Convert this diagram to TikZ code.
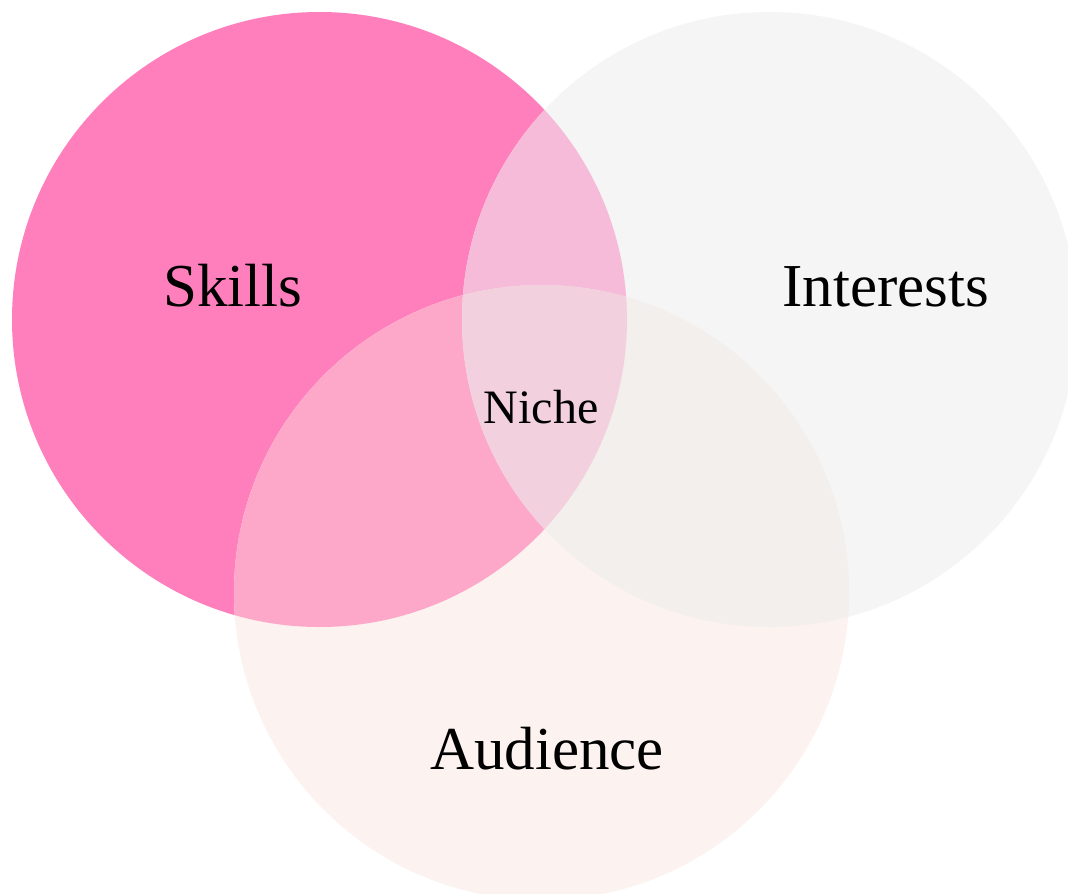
\documentclass[tikz,border=0pt]{standalone}
\usepackage{fontspec}
\setmainfont{Liberation Serif}
\definecolor{skillsC}{HTML}{FF7FBD}
\definecolor{interestsC}{HTML}{F5F5F5}
\definecolor{audienceC}{HTML}{FCF2F0}
\definecolor{siC}{HTML}{F5BBD8}
\definecolor{saC}{HTML}{FDA7C9}
\definecolor{iaC}{HTML}{F3EFEC}
\definecolor{siaC}{HTML}{F3D0DE}
\tikzset{
  biglabel/.style={anchor=base, font=\fontsize{61}{61}\selectfont, text=black, inner sep=0pt},
  smalllabel/.style={anchor=base, font=\fontsize{48}{48}\selectfont, text=black, inner sep=0pt}
}
\begin{document}
\begin{tikzpicture}[x=1pt, y=-1pt]
  \useasboundingbox (0,0) rectangle (1068,894);
  \clip (0,0) rectangle (1068,894);
  \fill[white] (0,0) rectangle (1068,894);
  % circle centres and radius
  \def\R{307.5}
  \coordinate (cs) at (319.5,319.5);
  \coordinate (ci) at (769.5,319.5);
  \coordinate (ca) at (541.5,592.5);
  % single circles
  \fill[skillsC] (cs) circle (\R);
  \fill[interestsC] (ci) circle (\R);
  \fill[audienceC] (ca) circle (\R);
  % pairwise overlaps
  \begin{scope}
    \clip (cs) circle (\R);
    \fill[siC] (ci) circle (\R);
    \fill[saC] (ca) circle (\R);
  \end{scope}
  \begin{scope}
    \clip (ci) circle (\R);
    \fill[iaC] (ca) circle (\R);
  \end{scope}
  % triple overlap
  \begin{scope}
    \clip (cs) circle (\R);
    \clip (ci) circle (\R);
    \fill[siaC] (ca) circle (\R);
  \end{scope}
  % labels
  \node[biglabel] (skills) at (233,306) {Skills};
  \node[biglabel] (interests) at (886,306) {Interests};
  \node[biglabel] (audience) at (547,769) {Audience};
  \node[smalllabel] (niche) at (541,423) {Niche};
\end{tikzpicture}
\end{document}
